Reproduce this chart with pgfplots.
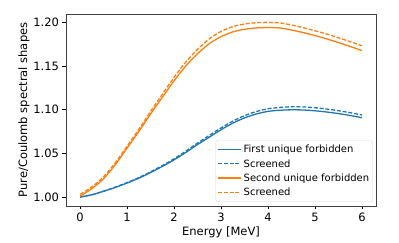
\documentclass[border=0pt]{standalone}
\usepackage{pgfplots}
\pgfplotsset{compat=1.18}
\usepackage{fontspec}
\setmainfont{DejaVu Sans}
\definecolor{cA}{HTML}{1F77B4}
\definecolor{cB}{HTML}{FF7F0E}
\begin{document}
\begin{tikzpicture}[x=1pt,y=1pt]
\useasboundingbox (0,0) rectangle (399,243);
\begin{axis}[
  at={(66pt,37pt)}, anchor=south west,
  scale only axis, width=310pt, height=192pt,
  xmin=-0.3, xmax=6.3, ymin=0.9897, ymax=1.2095,
  xtick={0,1,2,3,4,5,6},
  ytick={1.00,1.05,1.10,1.15,1.20},
  yticklabel style={/pgf/number format/.cd,fixed,fixed zerofill,precision=2},
  /pgf/number format/assume math mode=true,
  tick align=outside, tick pos=left,
  major tick length=3.5pt,
  every tick/.style={black, line width=0.6pt},
  axis line style={black!75, line width=0.6pt},
  ticklabel style={font=\fontsize{11.5}{13}\selectfont},
  xlabel={Energy [MeV]}, ylabel={Pure/Coulomb spectral shapes},
  label style={font=\fontsize{11.5}{13}\selectfont},
  xlabel style={yshift=2pt},
  ylabel style={yshift=-3pt},
  legend style={at={(0.99,0.021)}, anchor=south east,
    font=\fontsize{10}{11.5}\selectfont, draw=black!15, rounded corners=2pt,
    inner xsep=1.5pt, inner ysep=2.5pt, row sep=1.2pt, fill=white,
    /tikz/every even column/.append style={column sep=3pt}},
  legend cell align=left,
  legend image code/.code={\draw[sharp corners,line width=1.4pt,#1] (0pt,0.5pt) -- (23pt,0.5pt);},
  every axis plot/.append style={line width=1.3pt},
]
\addlegendimage{color=cA, solid, line width=1.4pt}
\addlegendentry{First unique forbidden}
\addlegendimage{color=cA, dash pattern=on 4pt off 1.8pt, line width=1.4pt}
\addlegendentry{Screened}
\addlegendimage{color=cB, solid, line width=1.4pt}
\addlegendentry{Second unique forbidden}
\addlegendimage{color=cB, dash pattern=on 4pt off 1.8pt, line width=1.4pt}
\addlegendentry{Screened}
\addplot[cA, smooth, forget plot] coordinates {
(0,1.000) (0.25,1.0025) (0.5,1.0065) (0.75,1.011) (1.0,1.016) (1.25,1.0215)
(1.5,1.028) (1.75,1.035) (2.0,1.0425) (2.25,1.051) (2.5,1.060) (2.75,1.0685)
(3.0,1.077) (3.25,1.0845) (3.5,1.0905) (3.75,1.095) (4.0,1.098) (4.25,1.0993)
(4.5,1.0998) (4.75,1.0996) (5.0,1.0987) (5.25,1.0973) (5.5,1.0955) (5.75,1.0933) (6.0,1.0908)};
\addplot[cA, smooth, forget plot, dash pattern=on 4pt off 1.8pt] coordinates {
(0,1.000) (0.25,1.0026) (0.5,1.0067) (0.75,1.0113) (1.0,1.0165) (1.25,1.0222)
(1.5,1.0288) (1.75,1.0359) (2.0,1.0437) (2.25,1.0525) (2.5,1.0617) (2.75,1.0705)
(3.0,1.079) (3.25,1.0868) (3.5,1.0931) (3.75,1.0978) (4.0,1.101) (4.25,1.1025)
(4.5,1.1033) (4.75,1.1031) (5.0,1.1022) (5.25,1.1007) (5.5,1.0988) (5.75,1.0965) (6.0,1.0939)};
\addplot[cB, smooth, forget plot] coordinates {
(0,1.001) (0.25,1.0095) (0.5,1.021) (0.75,1.037) (1.0,1.056) (1.25,1.075)
(1.5,1.095) (1.75,1.114) (2.0,1.133) (2.25,1.150) (2.5,1.164) (2.75,1.1755)
(3.0,1.1835) (3.25,1.189) (3.5,1.192) (3.75,1.1935) (4.0,1.1940) (4.25,1.1935)
(4.5,1.1912) (4.75,1.1882) (5.0,1.1848) (5.25,1.1810) (5.5,1.1768) (5.75,1.1723) (6.0,1.1676)};
\addplot[cB, smooth, forget plot, dash pattern=on 4pt off 1.8pt] coordinates {
(0,1.003) (0.25,1.0115) (0.5,1.0232) (0.75,1.0393) (1.0,1.0582) (1.25,1.0775)
(1.5,1.098) (1.75,1.1175) (2.0,1.137) (2.25,1.1545) (2.5,1.169) (2.75,1.181)
(3.0,1.1895) (3.25,1.195) (3.5,1.198) (3.75,1.1995) (4.0,1.1999) (4.25,1.1993)
(4.5,1.1969) (4.75,1.1938) (5.0,1.1903) (5.25,1.1865) (5.5,1.1823) (5.75,1.1778) (6.0,1.1731)};
\end{axis}
\end{tikzpicture}
\end{document}
